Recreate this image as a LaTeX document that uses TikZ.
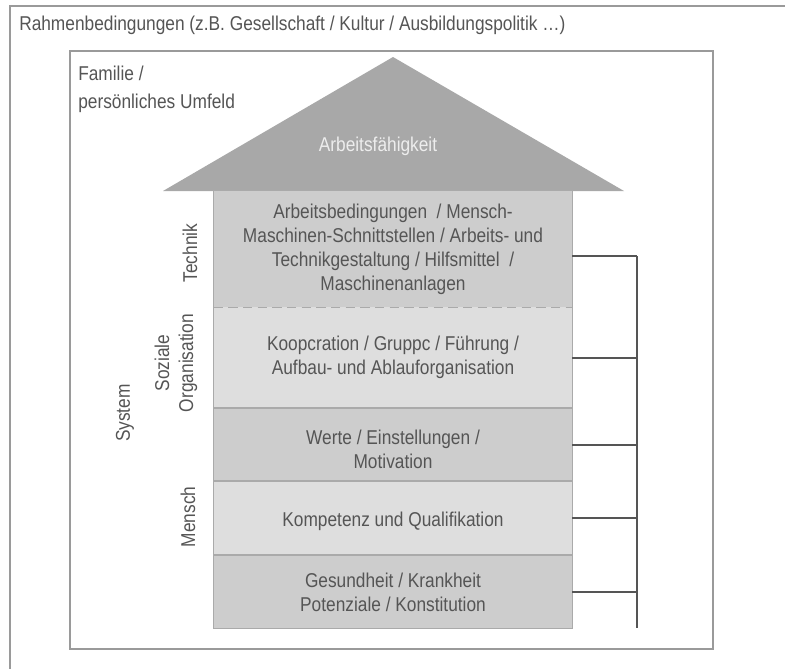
\documentclass[tikz,border=0pt]{standalone}
\usepackage{fontspec}
\setmainfont{Liberation Sans}[FakeStretch=0.865]
\usetikzlibrary{fit}
\definecolor{txt}{HTML}{555555}
\definecolor{frame}{HTML}{9A9A9A}
\definecolor{darkfill}{HTML}{CDCDCD}
\definecolor{lightfill}{HTML}{DEDEDE}
\definecolor{boxline}{HTML}{AAAAAA}
\definecolor{rooffill}{HTML}{A8A8A8}
\definecolor{tick}{HTML}{555555}
\tikzset{
  every node/.style={font=\fontsize{15}{18}\selectfont, text=txt},
  framebox/.style={draw=frame, line width=1.2pt},
  layer/.style={inner sep=0pt},
  darklayer/.style={layer, fill=darkfill},
  lightlayer/.style={layer, fill=lightfill},
  layertext/.style={align=center, inner sep=0pt},
  edge/.style={draw=boxline, line width=1.1pt},
  bracket/.style={draw=tick, line width=1.1pt},
  sidelabel/.style={rotate=90, align=center, inner sep=0pt},
}
\begin{document}
\begin{tikzpicture}[x=0.75pt, y=-0.75pt]
\useasboundingbox (0,0) rectangle (785,668);
\fill[white] (0,0) rectangle (785,668);

% outer and inner frames
\draw[framebox] (10,6) rectangle (800,690);
\node[anchor=base west, inner sep=0pt] (rahmen) at (19,30)
  {Rahmenbedingungen (z.B. Gesellschaft / Kultur / Ausbildungspolitik \dots)};
\draw[framebox] (70,51) rectangle (713,649);
\node[anchor=base west, inner sep=0pt] (familie) at (78,80) {Familie /};
\node[anchor=base west, inner sep=0pt] (umfeld) at (78,108) {persönliches Umfeld};

% roof
\fill[rooffill] (163,191) -- (393,57) -- (624,191) -- cycle;
\node[text=white!93!black] (roof) at (378,146) {Arbeitsfähigkeit};

% layers
\node[darklayer, fit={(214,191)(572,307)}] (b1) {};
\node[lightlayer, fit={(214,307)(572,408)}] (b2) {};
\node[darklayer, fit={(214,408)(572,481)}] (b3) {};
\node[lightlayer, fit={(214,481)(572,555)}] (b4) {};
\node[darklayer, fit={(214,555)(572,628)}] (b5) {};

\node[layertext] (t1) at (393,249)
  {Arbeitsbedingungen~~/ Mensch-\\Maschinen-Schnittstellen / Arbeits- und\\Technikgestaltung / Hilfsmittel~~/\\Maschinenanlagen};
\node[layertext] (t2) at (393,357)
  {Koopcration / Gruppc / Führung /\\Aufbau- und Ablauforganisation};
\node[layertext] (t3) at (393,449) {Werte / Einstellungen /\\Motivation};
\node[layertext] (t4) at (393,521) {Kompetenz und Qualifikation};
\node[layertext] (t5) at (393,592) {Gesundheit / Krankheit\\Potenziale / Konstitution};

% layer borders
\draw[edge] (b1.south west) -- (b1.north west) -- (b1.north east) -- (b1.south east);
\draw[edge, dash pattern=on 7pt off 4pt] (b1.south west) -- (b1.south east);
\draw[edge] (b2.south west) -- (b2.north west);
\draw[edge] (b2.north east) -- (b2.south east) -- (b2.south west);
\draw[edge] (b3.north west) rectangle (b3.south east);
\draw[edge] (b4.north west) rectangle (b4.south east);
\draw[edge] (b5.north west) rectangle (b5.south east);

% side labels
\node[sidelabel] (technik) at (190,253) {Technik};
\node[sidelabel] (sozorg) at (176,363) {Soziale\\Organisation};
\node[sidelabel] (mensch) at (188,517) {Mensch};
\node[sidelabel] (system) at (125,413) {System};

% bracket on the right
\coordinate (bt) at (637,256);
\coordinate (bb) at (637,628);
\draw[bracket] (bt) -- (bb);
\draw[bracket] (b1.east |- bt) -- (bt);
\draw[bracket] (b2.east |- 0,358) -- (bt |- 0,358);
\draw[bracket] (b3.east |- 0,445) -- (bt |- 0,445);
\draw[bracket] (b4.east |- 0,518) -- (bt |- 0,518);
\draw[bracket] (b5.east |- 0,592) -- (bt |- 0,592);
\end{tikzpicture}
\end{document}
